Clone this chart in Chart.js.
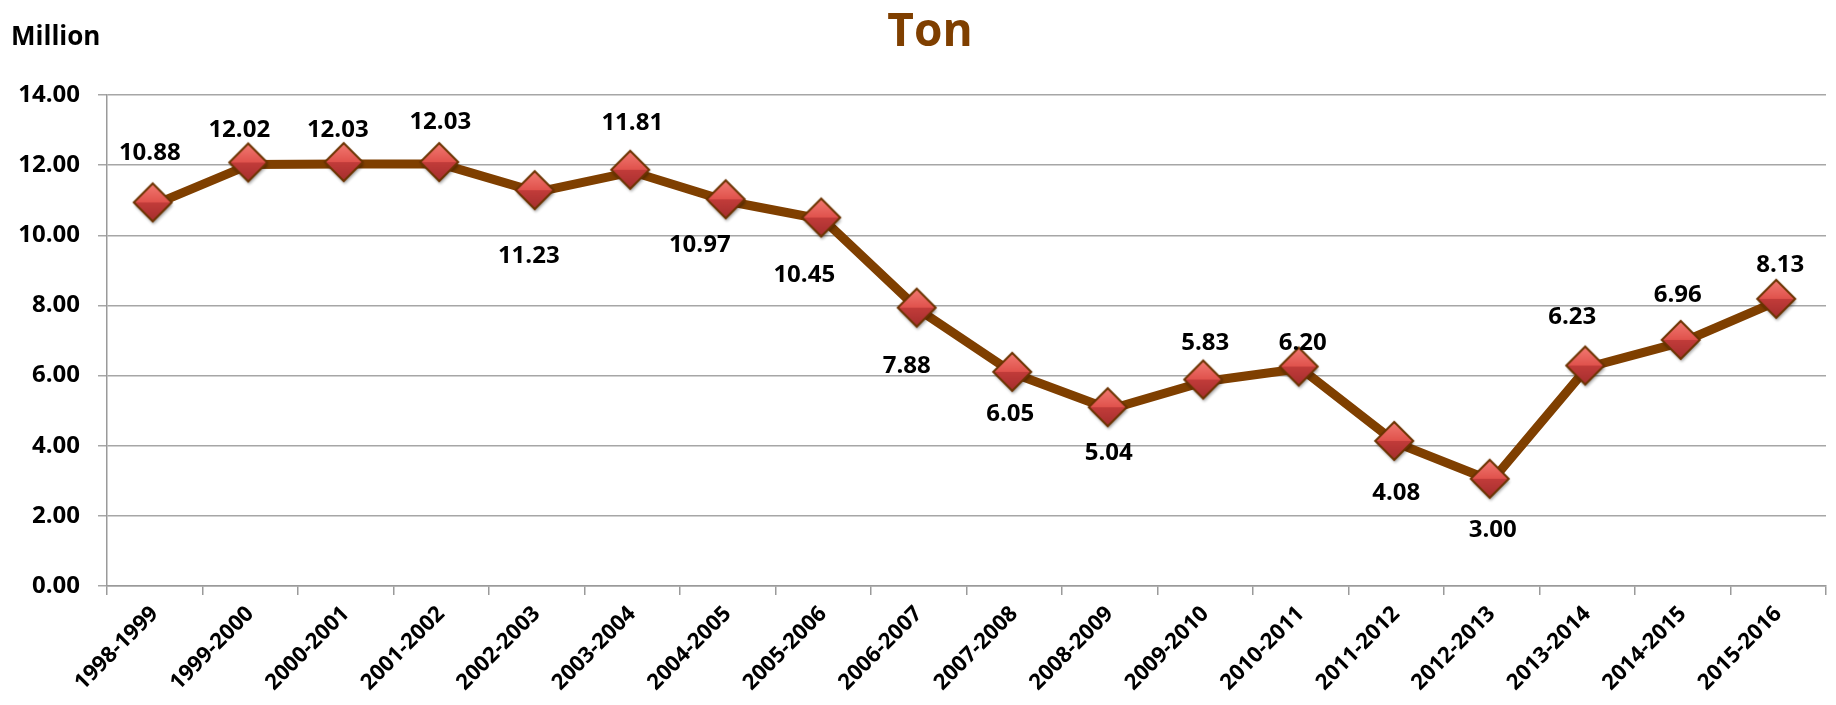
<!DOCTYPE html>
<html>
<head>
<meta charset="utf-8">
<script src="https://cdn.jsdelivr.net/npm/chart.js@4.4.1/dist/chart.umd.min.js"></script>
<style>
  html, body { margin: 0; padding: 0; background: #ffffff; }
  #wrap { width: 1836px; height: 705px; position: relative; }
</style>
</head>
<body>
<div id="wrap"><canvas id="chart" width="1836" height="705"></canvas></div>
<script>
// Seasons and tonnage (million tons)
const seasons = [
  '1998-1999', '1999-2000', '2000-2001', '2001-2002', '2002-2003', '2003-2004',
  '2004-2005', '2005-2006', '2006-2007', '2007-2008', '2008-2009', '2009-2010',
  '2010-2011', '2011-2012', '2012-2013', '2013-2014', '2014-2015', '2015-2016'
];
const tons = [
  10.88, 12.02, 12.03, 12.03, 11.23, 11.81, 10.97, 10.45, 7.88,
  6.05, 5.04, 5.83, 6.20, 4.08, 3.00, 6.23, 6.96, 8.13
];
const yTicks = [0, 2, 4, 6, 8, 10, 12, 14];

const BROWN = '#7F3F00';
const FONT = "'Open Sans', 'DejaVu Sans', sans-serif";

// Diamond marker with a shaded red face and a soft drop shadow
function makeDiamond() {
  const size = 50, r = 19, c = 23;
  const cv = document.createElement('canvas');
  cv.width = size; cv.height = size;
  const g = cv.getContext('2d');
  g.save();
  g.shadowColor = 'rgba(0,0,0,0.35)';
  g.shadowBlur = 3;
  g.shadowOffsetX = 1;
  g.shadowOffsetY = 3;
  g.beginPath();
  g.moveTo(c, c - r); g.lineTo(c + r, c); g.lineTo(c, c + r); g.lineTo(c - r, c); g.closePath();
  g.fillStyle = '#c94040';
  g.fill();
  g.restore();
  // upper facets lighter, lower facets darker
  const up = g.createLinearGradient(0, c - r, 0, c);
  up.addColorStop(0, '#f27a72');
  up.addColorStop(1, '#e0524c');
  g.beginPath();
  g.moveTo(c, c - r); g.lineTo(c + r, c); g.lineTo(c - r, c); g.closePath();
  g.fillStyle = up; g.fill();
  const dn = g.createLinearGradient(0, c, 0, c + r);
  dn.addColorStop(0, '#c23c3a');
  dn.addColorStop(1, '#a52e2e');
  g.beginPath();
  g.moveTo(c - r, c); g.lineTo(c + r, c); g.lineTo(c, c + r); g.closePath();
  g.fillStyle = dn; g.fill();
  g.beginPath();
  g.moveTo(c, c - r); g.lineTo(c + r, c); g.lineTo(c, c + r); g.lineTo(c - r, c); g.closePath();
  g.lineWidth = 2;
  g.strokeStyle = '#6a3300';
  g.stroke();
  return cv;
}
const diamond = makeDiamond();

// Headings: chart title and unit caption
const headings = {
  id: 'headings',
  afterDraw(chart) {
    const ctx = chart.ctx;
    ctx.save();
    ctx.textBaseline = 'alphabetic';
    ctx.fillStyle = BROWN;
    ctx.font = `bold 46px ${FONT}`;
    ctx.textAlign = 'center';
    ctx.fillText('Ton', 930, 46);
    ctx.fillStyle = '#000000';
    ctx.font = `bold 26px ${FONT}`;
    ctx.textAlign = 'left';
    ctx.fillText('Million', 11, 45);
    ctx.restore();
  }
};

// Value labels beside each point
const valueLabels = {
  id: 'valueLabels',
  afterDatasetsDraw(chart, args, opts) {
    const ctx = chart.ctx;
    const meta = chart.getDatasetMeta(0);
    const data = chart.data.datasets[0].data;
    ctx.save();
    ctx.font = `bold 24px ${FONT}`;
    ctx.fillStyle = '#000000';
    ctx.textAlign = 'center';
    ctx.textBaseline = 'alphabetic';
    meta.data.forEach((pt, i) => {
      const [dx, dy] = opts.offsets[i];
      ctx.fillText(data[i].toFixed(2), pt.x + dx, pt.y + dy + 8);
    });
    ctx.restore();
  }
};

new Chart(document.getElementById('chart'), {
  type: 'line',
  data: {
    labels: seasons,
    datasets: [{
      data: tons,
      borderColor: BROWN,
      borderWidth: 9,
      tension: 0,
      pointStyle: diamond,
      pointRadius: 19,
      pointHoverRadius: 19
    }]
  },
  options: {
    responsive: false,
    animation: false,
    events: [],
    layout: { autoPadding: false, padding: { top: 95, right: 10, bottom: 0, left: 0 } },
    plugins: {
      legend: { display: false },
      title: { display: false },
      tooltip: { enabled: false },
      valueLabels: {
        offsets: [
          [-5, -52], [-11, -35], [-8, -35], [-1, -43], [-8, 63], [0, -50],
          [-28, 43], [-19, 54], [-12, 55], [-4, 39], [-1, 43], [0, -40],
          [2, -27], [0, 49], [1, 48], [-15, -52], [-5, -48], [2, -37]
        ]
      }
    },
    scales: {
      x: {
        offset: true,
        grid: {
          offset: true,
          drawOnChartArea: false,
          drawTicks: true,
          tickLength: 9,
          color: '#9a9a9a',
          lineWidth: 1.5
        },
        border: { display: true, color: '#9a9a9a', width: 1.5 },
        ticks: {
          autoSkip: false,
          maxRotation: 45,
          minRotation: 45,
          padding: 6,
          color: '#000000',
          font: { family: FONT, weight: 'bold', size: 22 }
        },
        afterFit(scale) {
          scale.height = 119;
          scale.paddingLeft = 0;
          scale.paddingRight = 0;
        }
      },
      y: {
        min: 0,
        max: 14,
        afterBuildTicks(scale) { scale.ticks = yTicks.map(v => ({ value: v })); },
        grid: {
          color: '#a6a6a6',
          lineWidth: 1.5,
          drawTicks: true,
          tickLength: 9
        },
        border: { display: true, color: '#9a9a9a', width: 1.5 },
        ticks: {
          padding: 18,
          color: '#000000',
          font: { family: FONT, weight: 'bold', size: 24 },
          callback: v => Number(v).toFixed(2)
        },
        afterFit(scale) {
          scale.width = 107;
          scale.paddingTop = 0;
          scale.paddingBottom = 0;
        }
      }
    }
  },
  plugins: [headings, valueLabels]
});
</script>
</body>
</html>
